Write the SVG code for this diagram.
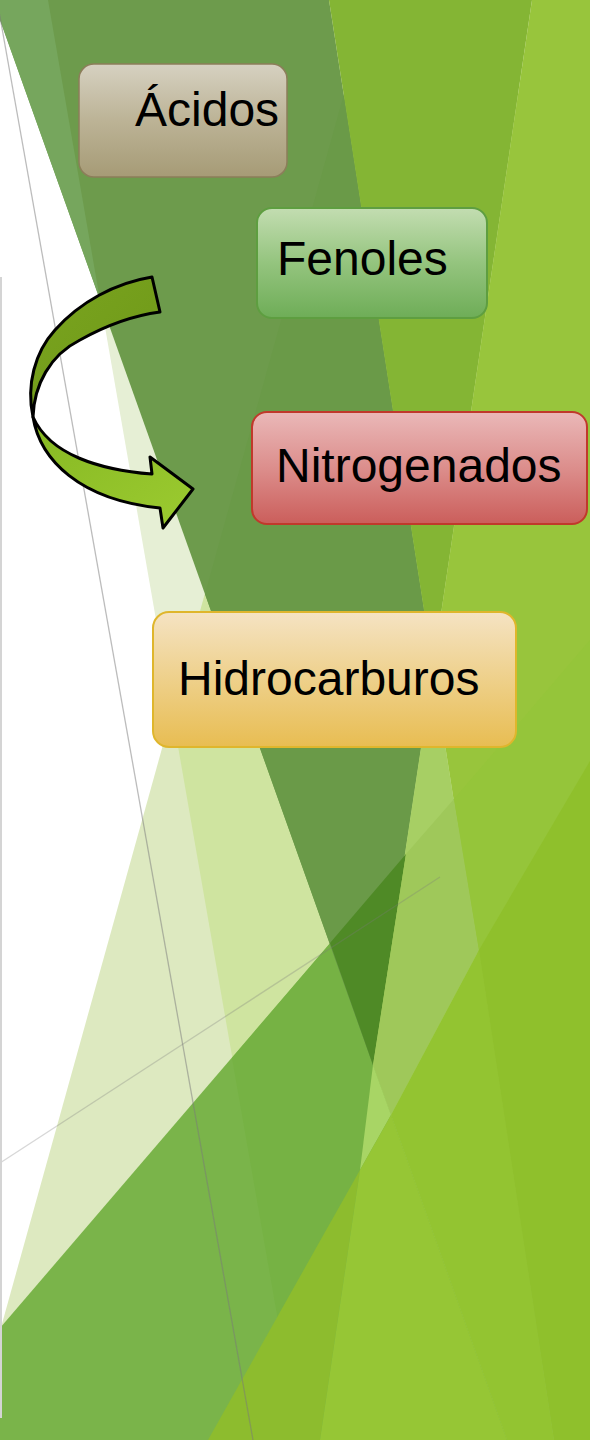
<svg xmlns="http://www.w3.org/2000/svg" width="590" height="1440" viewBox="0 0 590 1440">
<style>
.lbl{font-family:"Liberation Sans",Arial,sans-serif;font-size:48px;fill:#000}
.gl{fill:none;stroke:#7a7a7a;stroke-width:1.3}
.arr{stroke:#000;stroke-width:3;stroke-linejoin:round}
</style>
<defs>
<linearGradient id="gA" x1="0" y1="0" x2="0" y2="1"><stop offset="0" stop-color="#d6d1c1"/><stop offset="0.5" stop-color="#bcb396"/><stop offset="1" stop-color="#a69b76"/></linearGradient>
<linearGradient id="gF" x1="0" y1="0" x2="0" y2="1"><stop offset="0" stop-color="#c3ddb1"/><stop offset="0.5" stop-color="#94c47e"/><stop offset="1" stop-color="#6ead57"/></linearGradient>
<linearGradient id="gN" x1="0" y1="0" x2="0" y2="1"><stop offset="0" stop-color="#eab8b8"/><stop offset="0.5" stop-color="#dc8e8c"/><stop offset="1" stop-color="#cb5e5b"/></linearGradient>
<linearGradient id="gH" x1="0" y1="0" x2="0" y2="1"><stop offset="0" stop-color="#f5e3c3"/><stop offset="0.5" stop-color="#eed08a"/><stop offset="1" stop-color="#e8bd52"/></linearGradient>
<linearGradient id="gU" x1="0" y1="0" x2="1" y2="1"><stop offset="0" stop-color="#7aa41f"/><stop offset="1" stop-color="#6e9818"/></linearGradient>
<linearGradient id="gL" x1="0" y1="0" x2="1" y2="1"><stop offset="0" stop-color="#86b823"/><stop offset="1" stop-color="#9ccb30"/></linearGradient>
</defs>

<g id="background">
<rect x="0" y="0" width="590" height="1440" fill="#ffffff"/>
<polygon points="48,0 590,0 590,1440 299,1440" fill="#e6efd5"/>
<polygon points="0,1331 344,94 590,94 590,1440 0,1440" fill="#dde9c0"/>
<polygon points="344,94 172,712 299,1440 590,1440 590,94" fill="#cfe4a0"/>
<polygon points="0,1328 590,640 590,1440 0,1440" fill="#7ab44a"/>
<polygon points="232,1058 590,640 590,1440 299,1440" fill="#76b244"/>
<polygon points="-7,0 329,0 433,668 373,1065" fill="#6d9b4c"/>
<polygon points="344,94 433,668 373,1065 205,594" fill="#6a9a48"/>
<polygon points="0,0 48,0 100,300 0,20" fill="#76a65d"/>
<polygon points="329,0 532,0 433,668" fill="#84b534"/>
<polygon points="532,0 590,0 590,1440 554,1440 433,668" fill="#98c53c"/>
<polygon points="433,668 554,1440 507,1440 373,1065" fill="#a7cf64"/>
<polygon points="330,943 406,854 373,1065" fill="#4f8a26"/>
<polygon points="406,854 454,799 479,950 391,1115 373,1065" fill="#9fc85a"/>
<polygon points="373,1065 391,1115 360,1170" fill="#a8d565"/>
<polygon points="454,799 590,640 590,761 479,950" fill="#95c53a"/>
<polygon points="208,1440 360,1170 320,1440" fill="#8dbc2e"/>
<polygon points="360,1170 391,1115 507,1440 320,1440" fill="#96c635"/>
<polygon points="391,1115 479,950 554,1440 507,1440" fill="#93c431"/>
<polygon points="479,950 590,761 590,1440 554,1440" fill="#8fc02c"/>
<line class="gl" x1="-3" y1="0" x2="253" y2="1440" stroke-opacity="0.5"/>
<line class="gl" x1="0" y1="1163" x2="440" y2="877" stroke-opacity="0.3"/>
<rect x="0" y="277" width="2" height="1141" fill="#d4d4d4"/>
</g>

<g id="connectors">
<path class="arr" fill="url(#gU)" d="M152,277 C115,283 80,302 55,330 C35,352 26,385 33,417 C34,385 50,355 80,340 C105,326 130,316 160,312 Z"/>
<path class="arr" fill="url(#gL)" d="M33,417 C40,460 80,500 160,508 L163,528 L193,489 L150,457 L152,474 C100,470 50,455 33,417 Z"/>
</g>

<g id="node-acidos">
<rect x="79" y="64" width="208" height="113" rx="15" fill="url(#gA)" stroke="#8c7e5a" stroke-width="1.5"/>
<text class="lbl" x="135" y="126">Ácidos</text>
</g>
<g id="node-fenoles">
<rect x="257" y="208" width="230" height="110" rx="15" fill="url(#gF)" stroke="#5e9e40" stroke-width="2"/>
<text class="lbl" x="277" y="275">Fenoles</text>
</g>
<g id="node-nitrogenados">
<rect x="252" y="412" width="335" height="112" rx="15" fill="url(#gN)" stroke="#c0392b" stroke-width="2"/>
<text class="lbl" x="276" y="482">Nitrogenados</text>
</g>
<g id="node-hidrocarburos">
<rect x="153" y="612" width="363" height="135" rx="16" fill="url(#gH)" stroke="#dfb62c" stroke-width="2"/>
<text class="lbl" x="178" y="695">Hidrocarburos</text>
</g>
</svg>
